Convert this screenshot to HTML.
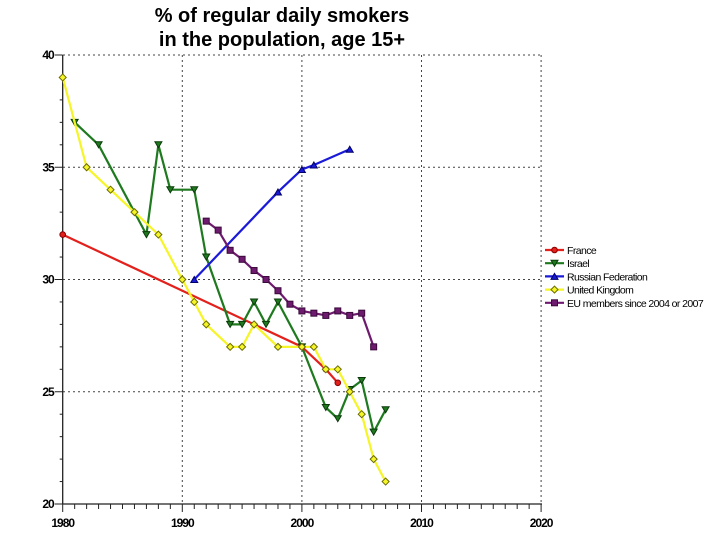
<!DOCTYPE html>
<html><head><meta charset="utf-8"><style>
body{margin:0;background:#fff;width:720px;height:540px;overflow:hidden}
svg{display:block}
text{font-family:"Liberation Sans",Arial,sans-serif}
</style></head><body>
<svg id="s" width="720" height="540" xmlns="http://www.w3.org/2000/svg">
<text x="282" y="22" text-anchor="middle" font-size="20" font-weight="bold">% of regular daily smokers</text>
<text x="282" y="46" text-anchor="middle" font-size="20" font-weight="bold">in the population, age 15+</text>
</svg>
<script>
const s=document.getElementById('s');
const X=y=>62.7+(y-1980)*11.96, Y=v=>55+(40-v)*22.45;
let h='';
for(const v of [25,30,35,40]) h+=`<line x1="63" x2="542" y1="${Y(v)}" y2="${Y(v)}" stroke="#444" stroke-dasharray="2,3" stroke-width="1"/>`;
for(const y of [1990,2000,2010,2020]) h+=`<line y1="55" y2="504" x1="${X(y)}" x2="${X(y)}" stroke="#444" stroke-dasharray="2,3" stroke-width="1"/>`;
h+=`<line x1="${X(1980)}" x2="${X(1980)}" y1="55" y2="504" stroke="#222" stroke-width="1.3"/>`;
h+=`<line x1="63" x2="542" y1="504" y2="504" stroke="#222" stroke-width="1.3"/>`;
for(let v=20;v<=40;v++){const m=v%5==0;h+=`<line x1="${X(1980)-(m?8:3)}" x2="${X(1980)}" y1="${Y(v)}" y2="${Y(v)}" stroke="#222"/>`;
 if(m) h+=`<text x="${X(1980)-9}" y="${Y(v)+4}" text-anchor="end" font-size="12" font-weight="bold" letter-spacing="-1">${v}</text>`;}
for(let y=1980;y<=2020;y++){const m=y%10==0;h+=`<line y1="504" y2="${504+(m?8:5)}" x1="${X(y)}" x2="${X(y)}" stroke="#222"/>`;
 if(m) h+=`<text x="${X(y)}" y="527" text-anchor="middle" font-size="12" font-weight="bold" letter-spacing="-1">${y}</text>`;}
const S=[
['France','#e3211c','circle',[[1980,32],[2000,27],[2002,26],[2003,25.4]]],
['Israel','#1f7a1f','tri',[[1981,37],[1983,36],[1987,32],[1988,36],[1989,34],[1991,34],[1992,31],[1994,28],[1995,28],[1996,29],[1997,28],[1998,29],[2000,27],[2002,24.3],[2003,23.8],[2004,25.1],[2005,25.5],[2006,23.2],[2007,24.2]]],
['Russian Federation','#1a1ad8','up',[[1991,30],[1998,33.9],[2000,34.9],[2001,35.1],[2004,35.8]]],
['United Kingdom','#f5f527','dia',[[1980,39],[1982,35],[1984,34],[1986,33],[1988,32],[1990,30],[1991,29],[1992,28],[1994,27],[1995,27],[1996,28],[1998,27],[2000,27],[2001,27],[2002,26],[2003,26],[2004,25],[2005,24],[2006,22],[2007,21]]],
['EU members since 2004 or 2007','#6e1a6e','sq',[[1992,32.6],[1993,32.2],[1994,31.3],[1995,30.9],[1996,30.4],[1997,30],[1998,29.5],[1999,28.9],[2000,28.6],[2001,28.5],[2002,28.4],[2003,28.6],[2004,28.4],[2005,28.5],[2006,27]]]];
function mk(t,c,x,y){
 if(t=='circle')return `<circle cx="${x}" cy="${y}" r="2.8" fill="${c}" stroke="#800"/>`;
 if(t=='tri')return `<polygon points="${x-3.5},${y-3} ${x+3.5},${y-3} ${x},${y+3}" fill="${c}" stroke="#0a3a0a"/>`;
 if(t=='up')return `<polygon points="${x-3.5},${y+3} ${x+3.5},${y+3} ${x},${y-3}" fill="${c}" stroke="#00006a"/>`;
 if(t=='dia')return `<polygon points="${x},${y-3.5} ${x+3.5},${y} ${x},${y+3.5} ${x-3.5},${y}" fill="${c}" stroke="#6a6a00"/>`;
 return `<rect x="${x-3}" y="${y-3}" width="6" height="6" fill="${c}" stroke="#3a0a3a"/>`;}
S.forEach(([n,c,t,d],i)=>{
 h+=`<polyline fill="none" stroke="${c}" stroke-width="2.2" points="${d.map(p=>X(p[0])+','+Y(p[1])).join(' ')}"/>`;
 d.forEach(p=>h+=mk(t,c,X(p[0]),Y(p[1])));
 const ly=250+i*13.2;
 h+=`<line x1="545" x2="564" y1="${ly}" y2="${ly}" stroke="${c}" stroke-width="2.2"/>`+mk(t,c,554.5,ly);
 h+=`<text x="567" y="${ly+4}" font-size="10.5" letter-spacing="-0.6">${n}</text>`;
});
s.insertAdjacentHTML('beforeend',h);
</script>
</body></html>
